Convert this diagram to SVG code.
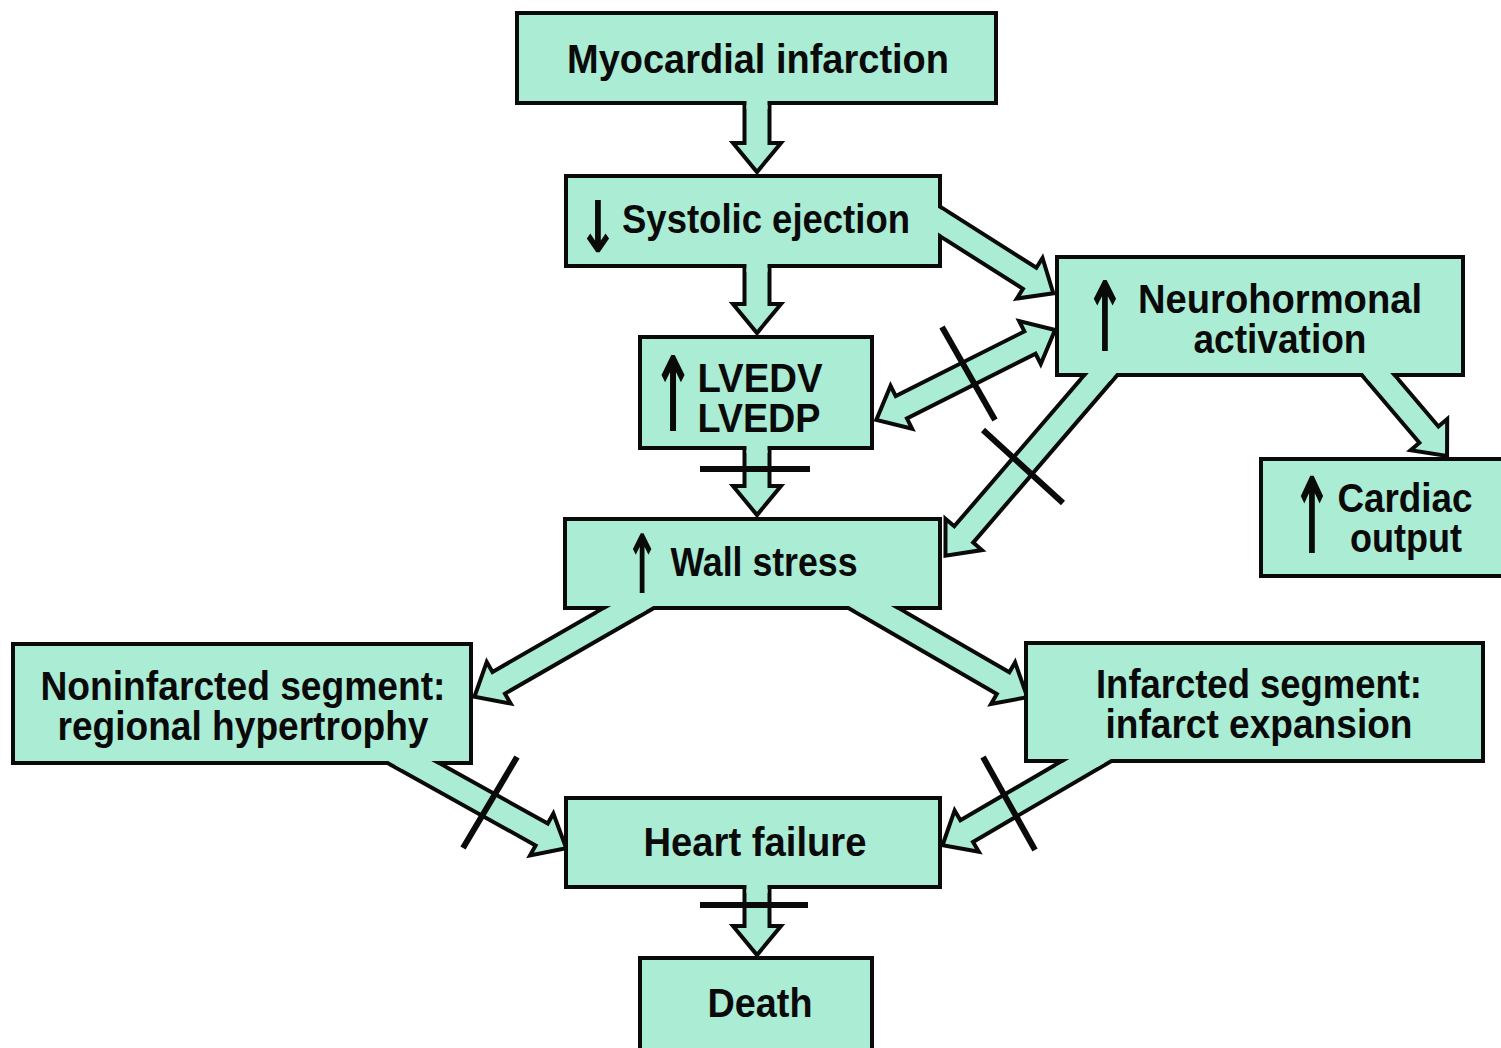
<svg xmlns="http://www.w3.org/2000/svg" width="1501" height="1048" viewBox="0 0 1501 1048">
<style>
.bg{fill:#ffffff}
.box{fill:#abecd4;stroke:#0a0a0a;stroke-width:4}
.arw{fill:#abecd4;stroke:#0a0a0a;stroke-width:4;stroke-linejoin:miter}
.patch{fill:#abecd4;stroke:none}
.cross{stroke:#0a0a0a;stroke-width:6;stroke-linecap:butt;fill:none}
.t{font-family:"Liberation Sans",Arial,sans-serif;font-weight:bold;font-size:40px;fill:#0a0a0a;text-anchor:middle}
.g{font-family:"DejaVu Sans",sans-serif;font-weight:bold;font-size:34px;fill:#0a0a0a;text-anchor:middle}
</style>
<rect class="bg" x="0" y="0" width="1501" height="1048"/>
<g id="connectors">
  <polygon class="arw" transform="translate(757,104) rotate(90)" points="-30,-12.5 39,-12.5 39,-24 68,0 39,24 39,12.5 -30,12.5"/>
  <polygon class="arw" transform="translate(757,267) rotate(90)" points="-30,-12.5 37,-12.5 37,-24 66,0 37,24 37,12.5 -30,12.5"/>
  <polygon class="arw" transform="translate(757,448) rotate(90)" points="-30,-12.5 38,-12.5 38,-24 67,0 38,24 38,12.5 -30,12.5"/>
  <polygon class="arw" transform="translate(757,888) rotate(90)" points="-30,-12.5 38,-12.5 38,-24 67,0 38,24 38,12.5 -30,12.5"/>
  <polygon class="arw" transform="translate(941,222) rotate(32.4)" points="-30,-12.5 105,-12.5 105,-24 133,0 105,24 105,12.5 -30,12.5"/>
  <polygon class="arw" transform="translate(1055,330) rotate(153.3)" points="0,0 28,-24 28,-12.5 172,-12.5 172,-24 200,0 172,24 172,12.5 28,12.5 28,24"/>
  <polygon class="arw" transform="translate(1100,376) rotate(130.7)" points="-30,-12.5 209,-12.5 209,-24 237,0 209,24 209,12.5 -30,12.5"/>
  <polygon class="arw" transform="translate(1379,376) rotate(49.6)" points="-30,-12.5 77,-12.5 77,-24 105,0 77,24 77,12.5 -30,12.5"/>
  <polygon class="arw" transform="translate(627,609) rotate(150.1)" points="-40,-12.5 148,-12.5 148,-24 176,0 148,24 148,12.5 -40,12.5"/>
  <polygon class="arw" transform="translate(875,609) rotate(30.07)" points="-40,-12.5 148,-12.5 148,-24 176,0 148,24 148,12.5 -40,12.5"/>
  <polygon class="arw" transform="translate(415,764) rotate(29.1)" points="-40,-12.5 145,-12.5 145,-24 173,0 145,24 145,12.5 -40,12.5"/>
  <polygon class="arw" transform="translate(1085,762) rotate(149.7)" points="-40,-12.5 137,-12.5 137,-24 165,0 137,24 137,12.5 -40,12.5"/>
</g>
<g id="node-mi"><rect class="box" x="517" y="13" width="479" height="90"/><text class="t" x="758" y="73" textLength="382" lengthAdjust="spacingAndGlyphs">Myocardial infarction</text></g>
<g id="node-systolic"><rect class="box" x="566" y="176" width="374" height="90"/><text class="g" transform="translate(598,252) scale(1.45,2.1)">↓</text><text class="t" x="766" y="233" textLength="288" lengthAdjust="spacingAndGlyphs">Systolic ejection</text></g>
<g id="node-lvedv"><rect class="box" x="640" y="337" width="232" height="111"/><text class="g" transform="translate(673,431) scale(1.5,3.05)">↑</text><text class="t" x="760" y="392" textLength="125" lengthAdjust="spacingAndGlyphs">LVEDV</text><text class="t" x="759" y="432" textLength="123" lengthAdjust="spacingAndGlyphs">LVEDP</text></g>
<g id="node-wall"><rect class="box" x="565" y="519" width="375" height="89"/><text class="g" transform="translate(642,593) scale(1.2,2.4)">↑</text><text class="t" x="764" y="576" textLength="187" lengthAdjust="spacingAndGlyphs">Wall stress</text></g>
<g id="node-neuro"><rect class="box" x="1057" y="257" width="406" height="118"/><text class="g" transform="translate(1105,351) scale(1.45,2.85)">↑</text><text class="t" x="1280" y="313" textLength="284" lengthAdjust="spacingAndGlyphs">Neurohormonal</text><text class="t" x="1280" y="353" textLength="173" lengthAdjust="spacingAndGlyphs">activation</text></g>
<g id="node-cardiac"><rect class="box" x="1261" y="459" width="260" height="117"/><text class="g" transform="translate(1312,553) scale(1.45,3.1)">↑</text><text class="t" x="1405" y="512" textLength="135" lengthAdjust="spacingAndGlyphs">Cardiac</text><text class="t" x="1406" y="552" textLength="112" lengthAdjust="spacingAndGlyphs">output</text></g>
<g id="node-noninfarcted"><rect class="box" x="13" y="644" width="458" height="119"/><text class="t" x="243" y="700" textLength="405" lengthAdjust="spacingAndGlyphs">Noninfarcted segment:</text><text class="t" x="243" y="740" textLength="371" lengthAdjust="spacingAndGlyphs">regional hypertrophy</text></g>
<g id="node-infarcted"><rect class="box" x="1026" y="643" width="457" height="118"/><text class="t" x="1259" y="698" textLength="326" lengthAdjust="spacingAndGlyphs">Infarcted segment:</text><text class="t" x="1259" y="738" textLength="307" lengthAdjust="spacingAndGlyphs">infarct expansion</text></g>
<g id="node-hf"><rect class="box" x="566" y="798" width="374" height="89"/><text class="t" x="755" y="856" textLength="223" lengthAdjust="spacingAndGlyphs">Heart failure</text></g>
<g id="node-death"><rect class="box" x="640" y="958" width="232" height="92"/><text class="t" x="760" y="1017" textLength="105" lengthAdjust="spacingAndGlyphs">Death</text></g>
<g id="connector-joins">
  <rect class="patch" x="746.5" y="99" width="21" height="10"/>
  <rect class="patch" x="746.5" y="262" width="21" height="10"/>
  <rect class="patch" x="746.5" y="443" width="21" height="10"/>
  <rect class="patch" x="746.5" y="883" width="21" height="10"/>
  <polygon class="patch" points="936,206.4 946,212.7 946,237.6 936,231.3"/>
  <polygon class="patch" points="1090.5,371 1118.2,371 1109.6,381 1081.9,381"/>
  <polygon class="patch" points="1361,371 1388.5,371 1397,381 1369.5,381"/>
  <polygon class="patch" points="614.6,604 656.8,604 639.4,614 597.2,614"/>
  <polygon class="patch" points="845.4,604 887.4,604 904.6,614 862.6,614"/>
  <polygon class="patch" points="384.4,759 427.6,759 445.6,769 402.4,769"/>
  <polygon class="patch" points="1072.8,757 1114.4,757 1097.3,767 1055.7,767"/>
  <line class="cross" x1="700" y1="469" x2="810" y2="469"/>
  <line class="cross" x1="700" y1="905" x2="808" y2="905"/>
  <line class="cross" x1="942" y1="327" x2="995" y2="420"/>
  <line class="cross" x1="983" y1="430" x2="1063" y2="503"/>
  <line class="cross" x1="463" y1="848" x2="517" y2="757"/>
  <line class="cross" x1="983" y1="757" x2="1035" y2="850"/>
</g>
</svg>
